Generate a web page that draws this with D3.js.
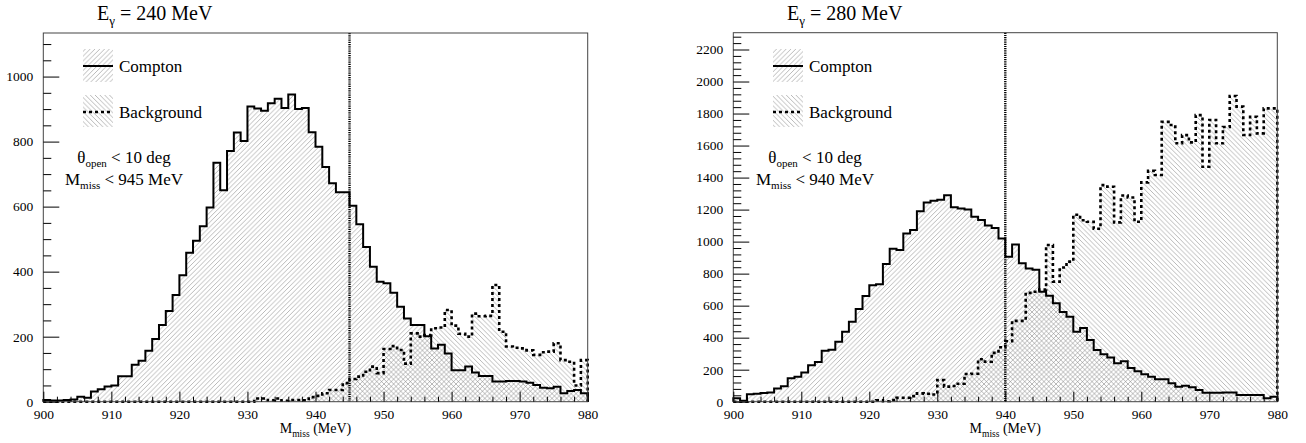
<!DOCTYPE html>
<html>
<head>
<meta charset="utf-8">
<script src="https://cdn.jsdelivr.net/npm/d3@7"></script>
<style>
  body { margin: 0; background: #fff; }
</style>
</head>
<body>
<div id="chart"></div>
<script>
const serif = "Liberation Serif, Times New Roman, serif";

// binning: 80 bins of 1 MeV from 900 to 980
const xMin = 900, xMax = 980;
const xTicks = [900, 910, 920, 930, 940, 950, 960, 970, 980];

// E = 240 MeV
const comptonLeft = [5, 4, 4, 5, 7, 15, 12, 31, 38, 47, 50, 78, 78, 114, 126, 157, 193, 236, 279, 328,
  389, 458, 495, 540, 597, 735, 650, 771, 828, 802, 908, 902, 895, 918, 932, 903, 945, 900, 903, 829,
  784, 722, 672, 644, 644, 603, 546, 476, 415, 369, 364, 335, 292, 256, 236, 236, 201, 164, 175, 148,
  97, 97, 108, 90, 79, 79, 62, 62, 64, 64, 62, 58, 51, 43, 41, 46, 26, 33, 36, 26];
const backgroundLeft = [0, 0, 0, 0, 0, 0, 0, 0, 0, 0, 0, 0, 0, 0, 0, 0, 0, 0, 0, 0,
  0, 0, 0, 0, 0, 0, 0, 0, 0, 0, 0, 10, 10, 4, 10, 3, 5, 5, 4, 14,
  18, 26, 36, 36, 57, 70, 77, 92, 108, 88, 162, 171, 159, 117, 210, 200, 205, 226, 228, 282,
  234, 209, 200, 271, 263, 264, 359, 215, 170, 166, 164, 158, 144, 152, 154, 180, 128, 123, 50, 128];
const yTicksLeft = [0, 200, 400, 600, 800, 1000];

// E = 280 MeV
const comptonRight = [21, 6, 46, 50, 54, 58, 83, 96, 146, 156, 183, 227, 248, 319, 325, 375, 437, 500, 579, 660,
  727, 733, 860, 956, 947, 1050, 1072, 1190, 1245, 1255, 1262, 1290, 1215, 1207, 1200, 1155, 1135, 1100, 1085, 1020,
  906, 982, 865, 832, 825, 687, 662, 615, 560, 530, 437, 460, 385, 323, 297, 276, 240, 253, 210, 190,
  172, 156, 140, 140, 115, 94, 100, 90, 73, 56, 56, 56, 58, 58, 42, 42, 42, 42, 21, 31];
const backgroundRight = [0, 0, 0, 0, 0, 0, 0, 0, 0, 0, 0, 0, 0, 0, 0, 0, 0, 0, 0, 0,
  0, 8, 3, 10, 25, 25, 35, 52, 50, 45, 135, 94, 98, 112, 173, 175, 265, 250, 305, 340,
  378, 505, 505, 680, 687, 700, 979, 750, 838, 875, 1168, 1133, 1124, 1080, 1353, 1343, 1120, 1288, 1276, 1124,
  1370, 1442, 1416, 1748, 1728, 1614, 1665, 1620, 1790, 1468, 1760, 1614, 1716, 1910, 1843, 1666, 1780, 1676, 1832, 1832];
const yTicksRight = [0, 200, 400, 600, 800, 1000, 1200, 1400, 1600, 1800, 2000, 2200];

const panels = [
  { title: "240", cut: "945", compton: comptonLeft, background: backgroundLeft, yTicks: yTicksLeft, minorStep: 50,
    left: 43.3, right: 587.7, top: 33, bottom: 401.7, yMax: 1134, titleX: 97, legX: 83, cutX: 124 },
  { title: "280", cut: "940", compton: comptonRight, background: backgroundRight, yTicks: yTicksRight, minorStep: 40,
    left: 733.3, right: 1277.3, top: 32.7, bottom: 401.7, yMax: 2305, titleX: 787, legX: 773, cutX: 815 }
];

const svg = d3.select("#chart").append("svg")
  .attr("width", 1306).attr("height", 443)
  .attr("font-family", serif);
svg.append("rect").attr("width", 1306).attr("height", 443).attr("fill", "#fff");

// hatch patterns (ROOT 3004 / 3005 style)
const defs = svg.append("defs");
const hs = 4.8;
const p1 = defs.append("pattern").attr("id", "hatchF").attr("patternUnits", "userSpaceOnUse")
  .attr("width", hs).attr("height", hs);
p1.append("path").attr("d", `M0,${hs} L${hs},0 M${-hs / 2},${hs / 2} L${hs / 2},${-hs / 2} M${hs / 2},${hs * 1.5} L${hs * 1.5},${hs / 2}`)
  .attr("stroke", "#8a8a8a").attr("stroke-width", 0.6);
const p2 = defs.append("pattern").attr("id", "hatchB").attr("patternUnits", "userSpaceOnUse")
  .attr("width", hs).attr("height", hs);
p2.append("path").attr("d", `M0,0 L${hs},${hs} M${-hs / 2},${hs / 2} L${hs / 2},${hs * 1.5} M${hs / 2},${-hs / 2} L${hs * 1.5},${hs / 2}`)
  .attr("stroke", "#8a8a8a").attr("stroke-width", 0.6);

panels.forEach(p => {
  const g = svg.append("g");
  const x = d3.scaleLinear().domain([xMin, xMax]).range([p.left, p.right]);
  const y = d3.scaleLinear().domain([0, p.yMax]).range([p.bottom, p.top]);

  // bin edges -> step points
  const pts = vals => {
    const a = [[xMin, 0]];
    vals.forEach((v, i) => a.push([xMin + i, v]));
    a.push([xMax, vals[vals.length - 1]]);
    a.push([xMax, 0]);
    return a;
  };
  const area = d3.area().curve(d3.curveStepAfter).x(d => x(d[0])).y0(y(0)).y1(d => y(d[1]));
  const line = d3.line().curve(d3.curveStepAfter).x(d => x(d[0])).y(d => y(d[1]));

  g.append("path").attr("d", area(pts(p.compton))).attr("fill", "url(#hatchF)");
  g.append("path").attr("d", area(pts(p.background))).attr("fill", "url(#hatchB)");
  g.append("path").attr("d", line(pts(p.background))).attr("fill", "none")
    .attr("stroke", "#000").attr("stroke-width", 2.6).attr("stroke-dasharray", "3,3");
  g.append("path").attr("d", line(pts(p.compton))).attr("fill", "none")
    .attr("stroke", "#000").attr("stroke-width", 2);

  // cut line
  g.append("line").attr("x1", x(+p.cut)).attr("x2", x(+p.cut)).attr("y1", p.top).attr("y2", p.bottom)
    .attr("stroke", "#000").attr("stroke-width", 2.4).attr("stroke-dasharray", "1.2,1");

  // frame
  g.append("rect").attr("x", p.left).attr("y", p.top).attr("width", p.right - p.left).attr("height", p.bottom - p.top)
    .attr("fill", "none").attr("stroke", "#444").attr("stroke-width", 1);

  // y axis
  const minorY = d3.range(0, p.yMax, p.minorStep).filter(v => !p.yTicks.includes(v));
  const ya = g.append("g").attr("transform", `translate(${p.left},0)`)
    .call(d3.axisLeft(y).tickValues(p.yTicks).tickSize(-16).tickPadding(10).tickFormat(d3.format("d")))
    .attr("font-family", serif).attr("font-size", 13.5);
  ya.select(".domain").remove();
  const ym = g.append("g").attr("transform", `translate(${p.left},0)`)
    .call(d3.axisLeft(y).tickValues(minorY).tickSize(-8).tickFormat(""));
  ym.select(".domain").remove();

  // x axis
  const minorX = d3.range(xMin, xMax, 2).filter(v => !xTicks.includes(v));
  const xa = g.append("g").attr("transform", `translate(0,${p.bottom})`)
    .call(d3.axisBottom(x).tickValues(xTicks).tickSize(-10).tickPadding(8).tickFormat(d3.format("d")))
    .attr("font-family", serif).attr("font-size", 13.5);
  xa.select(".domain").remove();
  const xm = g.append("g").attr("transform", `translate(0,${p.bottom})`)
    .call(d3.axisBottom(x).tickValues(minorX).tickSize(-5).tickFormat(""));
  xm.select(".domain").remove();

  // x title
  const xt = g.append("text").attr("x", (p.left + p.right) / 2).attr("y", 433)
    .attr("text-anchor", "middle").attr("font-size", 14);
  xt.append("tspan").text("M");
  xt.append("tspan").attr("dy", 4).attr("font-size", 9.5).text("miss");
  xt.append("tspan").attr("dy", -4).text(" (MeV)");

  // title
  const tt = g.append("text").attr("x", p.titleX).attr("y", 20).attr("font-size", 20);
  tt.append("tspan").text("E");
  tt.append("tspan").attr("dy", 5).attr("font-size", 13).text("γ");
  tt.append("tspan").attr("dy", -5).text(` = ${p.title} MeV`);

  // legend
  g.append("rect").attr("x", p.legX).attr("y", 49).attr("width", 30).attr("height", 33).attr("fill", "url(#hatchF)");
  g.append("line").attr("x1", p.legX).attr("x2", p.legX + 30).attr("y1", 66).attr("y2", 66)
    .attr("stroke", "#000").attr("stroke-width", 2);
  g.append("text").attr("x", p.legX + 36).attr("y", 72).attr("font-size", 17).text("Compton");
  g.append("rect").attr("x", p.legX).attr("y", 95).attr("width", 30).attr("height", 32).attr("fill", "url(#hatchB)");
  g.append("line").attr("x1", p.legX).attr("x2", p.legX + 30).attr("y1", 112).attr("y2", 112)
    .attr("stroke", "#000").attr("stroke-width", 2.6).attr("stroke-dasharray", "3,3");
  g.append("text").attr("x", p.legX + 36).attr("y", 118).attr("font-size", 17).text("Background");

  // cuts
  const c1 = g.append("text").attr("x", p.cutX).attr("y", 163).attr("text-anchor", "middle").attr("font-size", 17);
  c1.append("tspan").text("θ");
  c1.append("tspan").attr("dy", 4).attr("font-size", 11).text("open");
  c1.append("tspan").attr("dy", -4).text(" < 10 deg");
  const c2 = g.append("text").attr("x", p.cutX).attr("y", 185).attr("text-anchor", "middle").attr("font-size", 17);
  c2.append("tspan").text("M");
  c2.append("tspan").attr("dy", 4).attr("font-size", 11).text("miss");
  c2.append("tspan").attr("dy", -4).text(` < ${p.cut} MeV`);
});
</script>
</body>
</html>
